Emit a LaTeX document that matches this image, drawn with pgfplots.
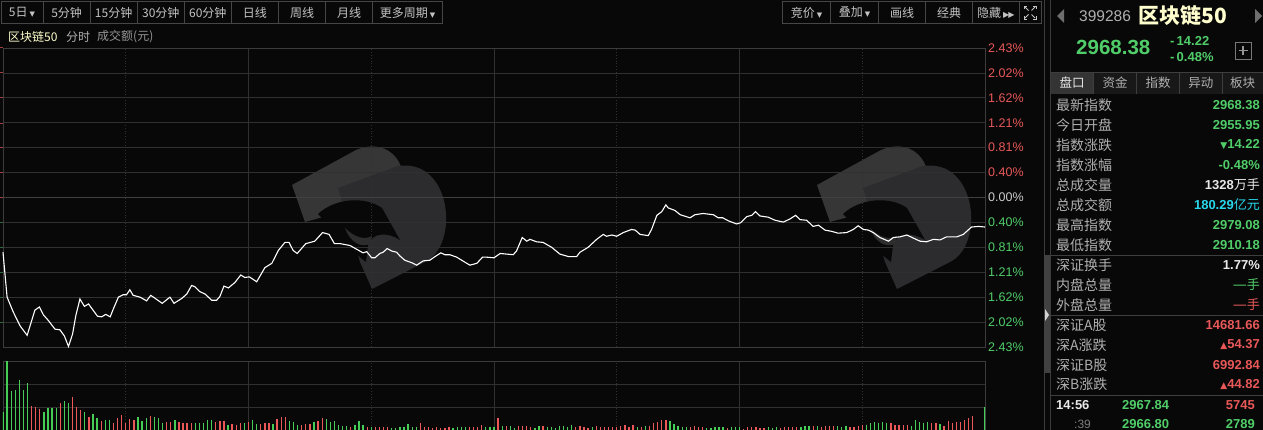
\documentclass[border=0pt]{standalone}
\usepackage{pgfplots}
\pgfplotsset{compat=1.18}
\usepackage{fontspec}
\setmainfont{Liberation Sans}
\newfontfamily\cjk{Noto Sans CJK SC}
\newfontfamily\dejavu{DejaVu Sans}
\definecolor{bg}{RGB}{8,8,8}
\definecolor{gridc}{RGB}{48,48,48}
\definecolor{zeroline}{RGB}{64,64,64}
\definecolor{framec}{RGB}{60,60,60}
\definecolor{btnc}{RGB}{70,70,70}
\definecolor{btntext}{RGB}{195,195,195}
\definecolor{lbl}{RGB}{175,175,175}
\definecolor{upc}{RGB}{232,88,88}
\definecolor{dnc}{RGB}{80,205,105}
\definecolor{volred}{RGB}{236,88,88}
\definecolor{volgreen}{RGB}{70,205,85}
\definecolor{zeroc}{RGB}{205,205,205}
\definecolor{paley}{RGB}{255,255,205}
\definecolor{cyanc}{RGB}{40,215,235}
\definecolor{whitec}{RGB}{232,232,232}
\definecolor{logoA}{RGB}{54,54,54}
\definecolor{logoB}{RGB}{44,44,47}
\definecolor{tabbg}{RGB}{24,24,24}
\definecolor{tabsel}{RGB}{52,52,52}
\definecolor{sepc}{RGB}{62,62,62}
\definecolor{scrollc}{RGB}{65,65,65}
\definecolor{arrowc}{RGB}{210,210,210}
\definecolor{navc}{RGB}{110,110,110}
\definecolor{plusbox}{RGB}{120,120,120}
\definecolor{plusc}{RGB}{150,150,150}
\begin{document}
\begin{tikzpicture}[x=1pt,y=1pt]
\useasboundingbox (0,0) rectangle (1263,430);
\clip (0,0) rectangle (1263,430);
\fill[bg] (0,0) rectangle (1263,430);
% ---------- image-coordinate scope (y downwards) ----------
\begin{scope}[shift={(0,430)},yscale=-1]
% watermarks
\foreach \dx in {0,525}{
\begin{scope}[shift={(\dx,0)}]
\fill[logoA] (292,185) -- (356,150) .. controls (392,135) and (412,170) .. (400,196) -- (305,222) -- cycle;
\fill[logoB] (338,188) -- (398,166) .. controls (452,158) and (460,245) .. (425,262) -- (372,289) -- (360,262) -- cycle;
\fill[bg] (318,214) .. controls (335,198) and (365,196) .. (382,208) -- (400,240) .. controls (388,232) and (372,232) .. (368,245) -- (366,262) .. controls (350,250) and (335,232) .. (318,214) -- cycle;
\fill[logoA!80!bg] (345,228) .. controls (355,238) and (365,240) .. (372,236) -- (370,244) .. controls (360,248) and (350,242) .. (345,228) -- cycle;
\end{scope}}
% toolbar left
\foreach \a/\b in {1/43.3,43.3/90,90/137.3,137.3/184.3,184.3/231.3,231.3/278.3,278.3/325.7,325.7/372.3,372.3/442.7}{
  \draw[btnc,line width=0.8pt] (\a,1.5) rectangle (\b,23.3);}
\begin{scope}[font=\fontsize{12}{14}\selectfont\cjk, text=btntext]
\node[anchor=center] at (22,12.5) {5日\,{\dejavu\fontsize{7}{8}\selectfont▼}};
\node at (66.6,12.5) {5分钟};
\node at (113.6,12.5) {15分钟};
\node at (160.8,12.5) {30分钟};
\node at (207.8,12.5) {60分钟};
\node at (254.8,12.5) {日线};
\node at (302,12.5) {周线};
\node at (349,12.5) {月线};
\node at (407.5,12.5) {更多周期\,{\dejavu\fontsize{7}{8}\selectfont▼}};
\end{scope}
% toolbar right
\foreach \a/\b in {782.3/830.7,830.7/878.3,878.3/925.7,925.7/972.3,972.3/1019.3,1019.3/1041.7}{
  \draw[btnc,line width=0.8pt] (\a,1.5) rectangle (\b,23.3);}
\begin{scope}[font=\fontsize{12}{14}\selectfont\cjk, text=btntext]
\node at (806.5,12.5) {竞价\,{\dejavu\fontsize{7}{8}\selectfont▼}};
\node at (854.5,12.5) {叠加\,{\dejavu\fontsize{7}{8}\selectfont▼}};
\node at (902,12.5) {画线};
\node at (949,12.5) {经典};
\node at (995.8,12.5) {隐藏\,{\dejavu\fontsize{8}{8}\selectfont▶\kern-1pt▶}};
\end{scope}
\begin{scope}[btntext,line width=0.9pt]
\draw (1024,9) -- (1024,6) -- (1027,6); \draw (1033,6) -- (1036,6) -- (1036,9);
\draw (1024,16) -- (1024,19) -- (1027,19); \draw (1033,19) -- (1036,19) -- (1036,16);
\draw (1025,7) -- (1028.5,10.5); \draw (1035,7) -- (1031.5,10.5);
\draw (1025,18) -- (1028.5,14.5); \draw (1035,18) -- (1031.5,14.5);
\end{scope}
% second line labels
\node[anchor=west,inner sep=0pt,text=paley,font=\fontsize{12}{14}\selectfont\cjk] at (8,37) {区块链50};
\node[anchor=west,inner sep=0pt,text=lbl,font=\fontsize{12}{14}\selectfont\cjk] at (66,37) {分时};
\node[anchor=west,inner sep=0pt,text=lbl!85!bg,font=\fontsize{12}{14}\selectfont\cjk] at (97,37) {成交额(元)};
% left tiny marks
\foreach \yy in {48,73,98,124,148,173,198}{\draw[upc!70!bg,line width=1pt] (0,\yy) -- (2.5,\yy);}
\foreach \yy in {223,248,273,298,323}{\draw[dnc!50!bg,line width=1pt] (0,\yy) -- (2.5,\yy);}
% divider & scrollbar
\draw[framec,line width=1pt] (1044,0) -- (1044,430);
\fill[scrollc] (1043.5,255) rectangle (1050,373);
\fill[arrowc] (1045,309) -- (1049,315) -- (1045,321) -- cycle;
\draw[framec,line width=0.8pt] (1050.5,0) -- (1050.5,430);
% right panel header
\fill[navc] (1057,16) -- (1064,9) -- (1064,23) -- cycle;
\fill[navc] (1262,16) -- (1255,9) -- (1255,23) -- cycle;
\node[anchor=west,inner sep=0pt,text=lbl,font=\fontsize{15.5}{16}\selectfont] at (1079,16.5) {399286};
\node[anchor=west,inner sep=0pt,text=paley,font=\fontsize{21}{22}\selectfont\cjk\bfseries] at (1138,16) {区块链50};
\node[anchor=west,inner sep=0pt,text=dnc,font=\fontsize{20.5}{21}\selectfont\bfseries] at (1076,47.5) {2968.38};
\node[anchor=west,inner sep=0pt,text=dnc,font=\fontsize{13}{14}\selectfont\bfseries] at (1170,40.5) {-\,14.22};
\node[anchor=west,inner sep=0pt,text=dnc,font=\fontsize{13}{14}\selectfont\bfseries] at (1170,57) {-\,0.48\%};
\draw[plusbox,line width=0.8pt] (1235,42) rectangle (1251,59);
\draw[plusc,line width=1.2pt] (1238.5,50.5) -- (1247.5,50.5) (1243,46) -- (1243,55);
% tabs
\fill[tabbg] (1051,72) rectangle (1263,94);
\fill[tabsel] (1051,72) rectangle (1093.3,94);
\foreach \xx in {1093.3,1136.7,1179.3,1222.3}{\draw[sepc,line width=0.8pt] (\xx,72) -- (\xx,94);}
\draw[sepc,line width=0.8pt] (1051,72) -- (1263,72);
\begin{scope}[font=\fontsize{12.5}{14}\selectfont\cjk]
\node[text=whitec] at (1072,83) {盘口};
\node[text=lbl] at (1115,83) {资金};
\node[text=lbl] at (1158,83) {指数};
\node[text=lbl] at (1200.8,83) {异动};
\node[text=lbl] at (1242.6,83) {板块};
\end{scope}
% rows
\foreach \yy/\lab in {105/最新指数,125/今日开盘,145/指数涨跌,165/指数涨幅,185/总成交量,205/总成交额,225/最高指数,245/最低指数,265/深证换手,285/内盘总量,305/外盘总量,325.5/深证A股,345/深A涨跌,365/深证B股,384.5/深B涨跌}{
 \node[anchor=west,inner sep=0pt,text=lbl,font=\fontsize{14}{15}\selectfont\cjk] at (1056,\yy) {\lab};}
\begin{scope}[font=\fontsize{13}{14}\selectfont\bfseries]
\node[anchor=east,inner sep=0pt,text=dnc] at (1260,105) {2968.38};
\node[anchor=east,inner sep=0pt,text=dnc] at (1260,125) {2955.95};
\node[anchor=east,inner sep=0pt,text=dnc] at (1260,145) {{\dejavu\fontsize{9}{9}\selectfont▼}14.22};
\node[anchor=east,inner sep=0pt,text=dnc] at (1260,165) {-0.48\%};
\node[anchor=east,inner sep=0pt,text=whitec] at (1260,185) {1328{\cjk\mdseries 万手}};
\node[anchor=east,inner sep=0pt,text=cyanc] at (1260,205) {180.29{\cjk\mdseries 亿元}};
\node[anchor=east,inner sep=0pt,text=dnc] at (1260,225) {2979.08};
\node[anchor=east,inner sep=0pt,text=dnc] at (1260,245) {2910.18};
\node[anchor=east,inner sep=0pt,text=whitec] at (1260,265) {1.77\%};
\node[anchor=east,inner sep=0pt,text=dnc] at (1260,285) {{\dejavu\mdseries\fontsize{14}{14}\selectfont —}{\cjk\mdseries 手}};
\node[anchor=east,inner sep=0pt,text=upc] at (1260,305) {{\dejavu\mdseries\fontsize{14}{14}\selectfont —}{\cjk\mdseries 手}};
\node[anchor=east,inner sep=0pt,text=upc] at (1260,325.5) {14681.66};
\node[anchor=east,inner sep=0pt,text=upc] at (1260,345) {{\dejavu\fontsize{9}{9}\selectfont▲}54.37};
\node[anchor=east,inner sep=0pt,text=upc] at (1260,365) {6992.84};
\node[anchor=east,inner sep=0pt,text=upc] at (1260,384.5) {{\dejavu\fontsize{9}{9}\selectfont▲}44.82};
\node[anchor=west,inner sep=0pt,text=whitec] at (1056,405.5) {14:56};
\node[anchor=west,inner sep=0pt,text=dnc] at (1122,405.5) {2967.84};
\node[anchor=east,inner sep=0pt,text=upc] at (1255,405.5) {5745};
\node[anchor=west,inner sep=0pt,text=lbl!70!bg,font=\fontsize{12}{13}\selectfont\mdseries] at (1074,424.5) {:39};
\node[anchor=west,inner sep=0pt,text=dnc] at (1122,424.5) {2966.80};
\node[anchor=east,inner sep=0pt,text=dnc] at (1255,424.5) {2789};
\end{scope}
\foreach \yy in {255,315.7,395}{\draw[sepc,line width=0.9pt] (1051,\yy) -- (1263,\yy);}
\end{scope}
% ---------- price axis ----------
\begin{axis}[at={(3pt,83pt)}, anchor=south west, width=982pt, height=299pt, scale only axis,
  xmin=0, xmax=240, ymin=-2.43, ymax=2.43,
  axis line style={draw=framec, line width=0.8pt},
  major tick length=0pt, tick style={draw=none},
  xtick={60,120,180}, xticklabels={},
  extra x ticks={30,90,150,210}, extra x tick labels={},
  extra x tick style={grid style={draw=gridc, dotted, line width=0.8pt}},
  ytick={-2.43,-2.025,-1.62,-1.215,-0.81,-0.405,0.405,0.81,1.215,1.62,2.025,2.43},
  yticklabels={{\textcolor{dnc}{2.43\%}},{\textcolor{dnc}{2.02\%}},{\textcolor{dnc}{1.62\%}},{\textcolor{dnc}{1.21\%}},{\textcolor{dnc}{0.81\%}},{\textcolor{dnc}{0.40\%}},{\textcolor{upc}{0.40\%}},{\textcolor{upc}{0.81\%}},{\textcolor{upc}{1.21\%}},{\textcolor{upc}{1.62\%}},{\textcolor{upc}{2.02\%}},{\textcolor{upc}{2.43\%}}},
  extra y ticks={0}, extra y tick labels={{\textcolor{zeroc}{0.00\%}}},
  extra y tick style={grid style={draw=zeroline, line width=1.8pt}},
  yticklabel pos=right,
  yticklabel style={anchor=west, inner sep=0pt, xshift=3pt, font=\fontsize{12.5}{13}\selectfont},
  grid=major, grid style={draw=gridc, line width=0.8pt},
  clip=false]
\addplot[draw=white, line width=1.1pt, mark=none] coordinates {
(0,-0.89) (1,-1.62) (2.5,-1.86) (4.2,-2.09) (5.9,-2.24) (7.8,-1.83) (8.9,-1.78) (9.9,-1.91) (11.1,-2.00) (12.7,-2.14) (13.9,-2.15) (15,-2.25) (16,-2.42) (17,-2.22) (17.8,-1.92) (18.8,-1.65) (19.9,-1.77) (20.9,-1.73) (22.1,-1.84) (23.1,-1.93) (24.1,-1.94) (25.1,-1.90) (26.2,-1.94) (27.1,-1.79) (28.2,-1.62) (29.4,-1.58) (30.2,-1.58) (31,-1.50) (31.8,-1.59) (33.5,-1.62) (35.1,-1.68) (36.1,-1.59) (37.2,-1.64) (38.9,-1.72) (40.8,-1.62) (41.8,-1.72) (43.7,-1.64) (44.9,-1.57) (46.1,-1.43) (46.9,-1.45) (48.1,-1.53) (49.4,-1.57) (51,-1.67) (52.2,-1.67) (53,-1.61) (54,-1.44) (55.1,-1.47) (56.7,-1.38) (58.1,-1.26) (59.1,-1.30) (60.2,-1.29) (62,-1.37) (64,-1.14) (65.7,-1.07) (67.3,-0.86) (68.9,-0.73) (69.9,-0.73) (70.9,-0.86) (71.9,-0.91) (74,-0.75) (76.2,-0.71) (78.1,-0.57) (79.7,-0.60) (81,-0.75) (82.4,-0.75) (83.2,-0.76) (84.8,-0.78) (86.4,-0.84) (88,-0.90) (88.9,-0.88) (90.1,-0.98) (90.9,-0.98) (92.1,-0.91) (92.9,-0.89) (93.9,-0.83) (95,-0.87) (96.2,-0.89) (97,-0.95) (98.2,-1.02) (99.9,-1.06) (101.1,-1.10) (102.7,-1.03) (104.3,-1.02) (105.6,-0.96) (107,-0.90) (108,-0.93) (109.2,-0.93) (110.9,-0.97) (112.1,-1.02) (114.1,-1.10) (115.8,-1.07) (117.2,-0.97) (118.2,-0.97) (120,-0.98) (121.5,-0.91) (123.1,-0.92) (124.7,-0.93) (125.5,-0.87) (126.9,-0.65) (128,-0.71) (128.8,-0.68) (130.4,-0.72) (132,-0.73) (134.1,-0.81) (136.1,-0.92) (138.2,-0.96) (140.2,-0.96) (141,-0.89) (143,-0.81) (145.1,-0.68) (146.7,-0.60) (147.5,-0.63) (148.8,-0.61) (150,-0.63) (151.6,-0.57) (153.6,-0.52) (154.5,-0.53) (155.7,-0.60) (157.7,-0.62) (158.5,-0.52) (159.8,-0.29) (161,-0.23) (162,-0.12) (162.6,-0.17) (164.2,-0.21) (165.5,-0.28) (167.9,-0.33) (169.1,-0.28) (171.1,-0.26) (173.6,-0.28) (174.8,-0.33) (175.9,-0.33) (177.3,-0.38) (179.3,-0.43) (180.3,-0.41) (181.8,-0.31) (183,-0.29) (183.9,-0.23) (185,-0.30) (187,-0.32) (188.7,-0.37) (190.7,-0.40) (192.3,-0.35) (193.7,-0.29) (194.8,-0.36) (196.4,-0.37) (198,-0.47) (199.3,-0.45) (200.9,-0.53) (202.5,-0.55) (204.1,-0.58) (206.2,-0.57) (207.8,-0.52) (209,-0.46) (210.3,-0.52) (211.5,-0.53) (212.7,-0.57) (214.3,-0.65) (216.4,-0.71) (217.6,-0.65) (219.2,-0.64) (220.9,-0.61) (222.5,-0.66) (224.1,-0.71) (225.7,-0.72) (227.4,-0.68) (229,-0.69) (230.6,-0.64) (233.1,-0.64) (234.7,-0.60) (236.7,-0.48) (238.4,-0.47) (240,-0.48)
};
\end{axis}
% ---------- volume axis ----------
\begin{axis}[at={(3pt,-1pt)}, anchor=south west, width=982pt, height=70pt, scale only axis,
  xmin=0, xmax=240, ymin=0, ymax=70,
  axis line style={draw=framec, line width=0.8pt},
  major tick length=0pt, tick style={draw=none},
  xtick={60,120,180}, xticklabels={},
  extra x ticks={30,90,150,210}, extra x tick labels={},
  extra x tick style={grid style={draw=gridc, dotted, line width=0.8pt}},
  ytick={23.33,46.67}, yticklabels={},
  grid=major, grid style={draw=gridc, line width=0.8pt}]
\addplot[ycomb, draw=volgreen, line width=1.3pt, mark=none] coordinates {
(0,19.3) (1,70.3) (2,40.3) (3,41) (4,51) (5,41) (6,48.3) (10,19.3) (11,23) (12,23) (13,22.7) (15,30.3) (16,28.3) (20,19.3) (22,17) (23,12.7) (25,11) (26,11) (33,14) (34,10.3) (35,13) (37,14) (38,12.7) (39,8.3) (42,11) (47,8.3) (48,7.7) (49,8.3) (50,11) (51,11) (55,6) (59,7.7) (61,11) (62,7) (66,7) (70,10) (71,9) (72,6) (76,9.3) (79,12.3) (80,9.3) (81,10) (82,6) (83,5) (84,5) (86,6) (87,10) (88,6) (90,4.3) (95,2.7) (96,2.7) (97,3.7) (98,3.7) (99,6.7) (100,4.3) (101,3.7) (110,2.7) (111,3.7) (112,4.3) (113,4.3) (118,3.7) (119,3.7) (120,3.7)
(122,5) (124,5) (125,2.7) (130,2.7) (131,5) (133,3.7) (134,3.7) (135,2.7) (136,5) (137,5) (138,3.7) (139,6) (144,3.7) (155,3.7) (157,5) (163,10) (164,7) (165,5) (166,3.7) (167,3.7) (172,3) (173,3) (174,3.7) (175,3.7) (176,3.7) (178,3.7) (179,3.7) (180,3.7) (187,3.7) (188,3) (189,3.7) (195,3.7) (196,5) (197,5) (199,5) (204,5) (205,3.7) (206,5) (211,6) (212,7.7) (213,9.3) (214,7.7) (215,9.3) (216,8.3) (222,5) (223,11) (224,9.3) (225,7.7) (226,9.3) (229,7) (240,24.3)
};
\addplot[ycomb, draw=volred, line width=1.3pt, mark=none] coordinates {
(7,25) (8,23.7) (9,22) (14,28.3) (17,33.7) (18,24) (19,21) (21,13.7) (24,10.3) (27,8.3) (28,13) (29,16) (30,8.3) (31,12) (32,11) (36,15) (40,8.7) (41,9.3) (43,9) (44,7.7) (45,7.7) (46,7.7) (52,9.3) (53,10.3) (54,10) (56,7) (57,6) (58,7.7) (60,8.7) (63,7) (64,7.7) (65,8.3) (67,12) (68,13.7) (69,13.7) (73,6) (74,6.7) (75,7) (77,10) (78,13) (85,3.7) (89,3.7) (91,3.7) (92,3.7) (93,4.3) (94,3.7) (102,7.7) (103,3.7) (104,3.7) (105,3.3) (106,3.7) (107,2.7) (108,2.7) (109,3.7) (114,3.7) (115,3.7) (116,3.7) (117,6) (121,12.7)
(123,5) (126,5) (127,5) (128,5) (129,3.7) (132,5) (140,3.7) (141,5) (142,3.7) (143,3) (145,5) (146,3.7) (147,3.7) (148,3.7) (149,3.7) (150,3.7) (151,5) (152,6) (153,3.7) (154,5.7) (156,3.7) (158,5) (159,7.7) (160,9.3) (161,11) (162,11) (168,3.7) (169,5) (170,3.7) (171,3.7) (177,3) (181,2.3) (182,4.3) (183,3.7) (184,3.7) (185,3) (186,3) (190,3) (191,3.7) (192,3.7) (193,3.7) (194,3.7) (198,5) (200,3.7) (201,5) (202,5) (203,5) (207,3.7) (208,3.7) (209,5) (210,6) (217,7.7) (218,6) (219,6) (220,6) (221,6) (227,8.3) (228,7.7) (230,5) (231,10) (232,8.3) (233,9.3) (234,9.3) (235,11) (236,12.7) (237,15)
};
\end{axis}
\end{tikzpicture}
\end{document}
